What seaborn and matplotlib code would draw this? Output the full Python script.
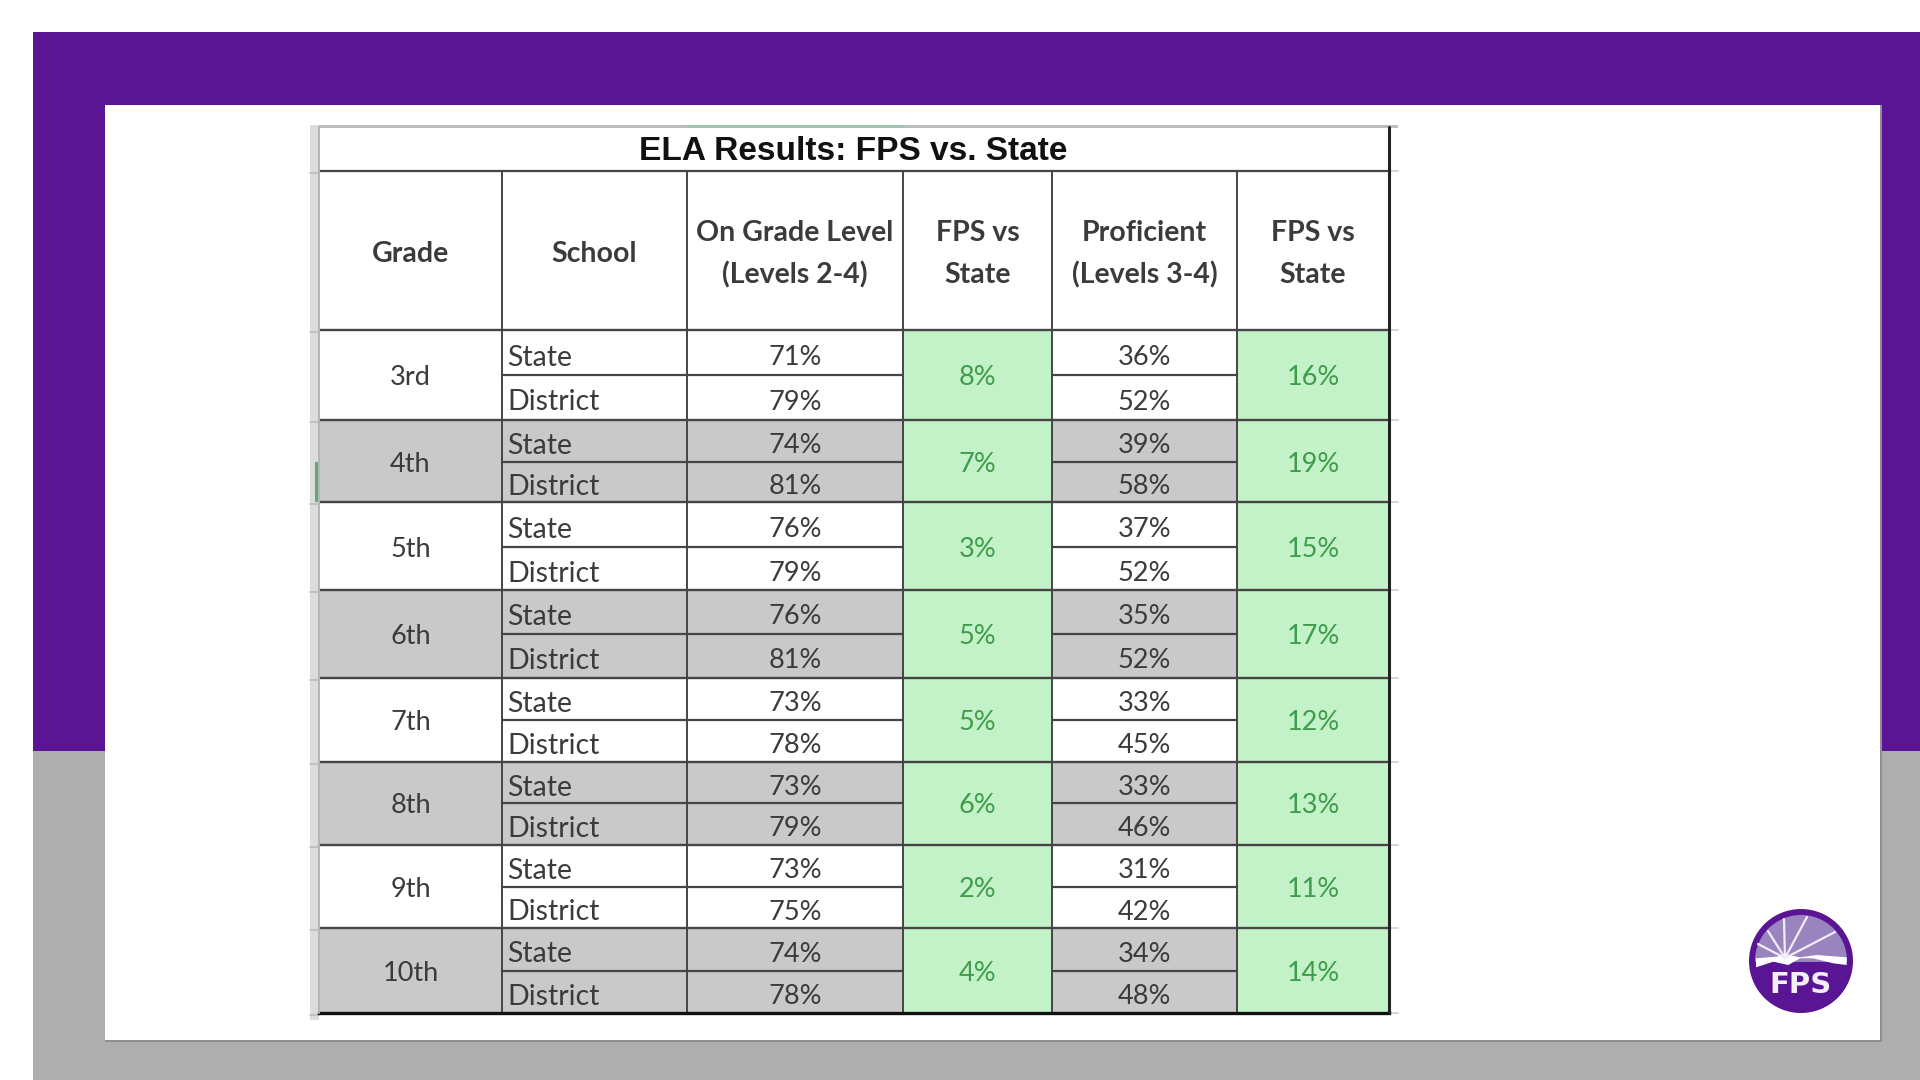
import matplotlib
matplotlib.use("Agg")
import matplotlib.pyplot as plt
from matplotlib.colors import ListedColormap
from matplotlib.patches import Circle, Polygon, Rectangle
import numpy as np
import seaborn as sns

sns.set_theme(style="white")
plt.rcParams['font.family'] = ['Lato', 'DejaVu Sans']

# table values
grades = ["3rd", "4th", "5th", "6th", "7th", "8th", "9th", "10th"]
schools = ["State", "District"]
on_grade_state = [71, 74, 76, 76, 73, 73, 73, 74]
on_grade_district = [79, 81, 79, 81, 78, 79, 75, 78]
on_grade_gap = [8, 7, 3, 5, 5, 6, 2, 4]
proficient_state = [36, 39, 37, 35, 33, 33, 31, 34]
proficient_district = [52, 58, 52, 52, 45, 46, 42, 48]
proficient_gap = [16, 19, 15, 17, 12, 13, 11, 14]

title = "ELA Results: FPS vs. State"
headers = ["Grade", "School", "On Grade Level\n(Levels 2-4)", "FPS vs\nState",
           "Proficient\n(Levels 3-4)", "FPS vs\nState"]

# table geometry, in pixels of the 1920x1080 picture
col_edges = [319, 502, 687, 903, 1052, 1237, 1389]
row_edges = [330, 375, 420, 462, 502, 547, 590, 634, 678, 720, 762, 803, 845, 887, 928, 971, 1013]
title_top, header_top = 127, 171

PURPLE = "#5a1594"
BAND = "#aeaeae"
ROW_GRAY = "#c9c9c9"
GREEN = "#c3f2c9"
GREEN_TEXT = "#3f9c4a"
TEXT = "#3b3b3b"
LINE = "#454545"
BODY_SIZE = 19.5
LABEL_SIZE = 20.5

fig = plt.figure(figsize=(19.2, 10.8), dpi=100, facecolor="white")


def pixel_axes(zorder):
    ax = fig.add_axes([0, 0, 1, 1], zorder=zorder)
    ax.set_xlim(0, 1920)
    ax.set_ylim(1080, 0)
    ax.axis("off")
    ax.patch.set_alpha(0)
    return ax


base = pixel_axes(0)
over = pixel_axes(2)

# slide background
base.add_patch(Rectangle((33, 32), 1887, 719, color=PURPLE, lw=0))
base.add_patch(Rectangle((33, 751), 1887, 329, color=BAND, lw=0))
base.add_patch(Rectangle((105, 105), 1777, 937, color="#8f8f8f", lw=0))
base.add_patch(Rectangle((105, 105), 1775, 935, color="white", lw=0))

# spreadsheet leftovers around the table
base.add_patch(Rectangle((310, 125), 1088, 3, color="#bdbdbd", lw=0))
base.add_patch(Rectangle((687, 125), 216, 3, color="#9cc4ae", lw=0))
base.add_patch(Rectangle((310, 125), 9, 895, color="#dcdcdc", lw=0))
base.add_patch(Rectangle((315, 462), 3, 40, color="#5fa87a", lw=0))
for y in [header_top, header_top + 159] + row_edges[2::2]:
    base.plot([1389, 1398], [y, y], color="#d0d0d0", lw=1.2)
    base.plot([310, 319], [y + 2, y + 2], color="#bcbcbc", lw=1.2)

# table body: one heatmap on 16 sub rows, stretched to the real row heights
n_rows, n_cols = len(grades) * 2, len(headers)
fill = np.zeros((n_rows, n_cols))
values = np.full((n_rows, n_cols), "", dtype=object)
for g in range(len(grades)):
    for r in (2 * g, 2 * g + 1):
        fill[r, :] = g % 2
        fill[r, 3] = 2
        fill[r, 5] = 2
    values[2 * g, 2] = f"{on_grade_state[g]}%"
    values[2 * g + 1, 2] = f"{on_grade_district[g]}%"
    values[2 * g, 4] = f"{proficient_state[g]}%"
    values[2 * g + 1, 4] = f"{proficient_district[g]}%"

table_ax = fig.add_axes([col_edges[0] / 1920, 1 - row_edges[-1] / 1080,
                         (col_edges[-1] - col_edges[0]) / 1920,
                         (row_edges[-1] - row_edges[0]) / 1080], zorder=1)
sns.heatmap(fill, ax=table_ax, cmap=ListedColormap(["white", ROW_GRAY, GREEN]),
            vmin=0, vmax=2, cbar=False, xticklabels=False, yticklabels=False,
            annot=values, fmt="", annot_kws={"color": TEXT, "fontsize": BODY_SIZE})
cols = np.arange(n_cols + 1)
rows = np.arange(n_rows + 1)
table_ax.set_xscale("function", functions=(lambda v: np.interp(v, cols, col_edges),
                                           lambda v: np.interp(v, col_edges, cols)))
table_ax.set_yscale("function", functions=(lambda v: np.interp(v, rows, row_edges),
                                           lambda v: np.interp(v, row_edges, rows)))
table_ax.axis("off")

# the annotations sit a bit low in their cells in the reference
for t in table_ax.texts:
    tx, ty = t.get_position()
    t.set_position((tx, ty + 0.11))

for g, grade in enumerate(grades):
    mid = 2 * g + 1.05
    table_ax.text(0.5, mid, grade, ha="center", va="center", color=TEXT, fontsize=BODY_SIZE)
    table_ax.text(3.5, mid, f"{on_grade_gap[g]}%", ha="center", va="center",
                  color=GREEN_TEXT, fontsize=BODY_SIZE)
    table_ax.text(5.5, mid, f"{proficient_gap[g]}%", ha="center", va="center",
                  color=GREEN_TEXT, fontsize=BODY_SIZE)
    for s, school in enumerate(schools):
        y = (row_edges[2 * g + s] + row_edges[2 * g + s + 1]) / 2 + 5
        over.text(col_edges[1] + 5, y, school, ha="left", va="center", color=TEXT, fontsize=LABEL_SIZE)

# title and header
over.text(853, 152, title, ha="center", va="center", color="#111111", fontsize=24.1,
          fontweight="bold", family="Liberation Sans")
for c, header in enumerate(headers):
    cx = (col_edges[c] + col_edges[c + 1]) / 2
    parts = header.split("\n")
    if len(parts) == 1:
        over.text(cx, 254, parts[0], ha="center", va="center", color=TEXT,
                  fontsize=LABEL_SIZE, fontweight="bold")
    else:
        over.text(cx, 233, parts[0], ha="center", va="center", color=TEXT,
                  fontsize=LABEL_SIZE, fontweight="bold")
        over.text(cx, 275, parts[1], ha="center", va="center", color=TEXT,
                  fontsize=LABEL_SIZE, fontweight="bold")

# grid lines
x0, x1 = col_edges[0], col_edges[-1]
over.plot([x0, x1], [header_top] * 2, color=LINE, lw=1.6)
for i, y in enumerate(row_edges[:-1]):
    if i % 2 == 0:
        over.plot([x0, x1], [y, y], color=LINE, lw=1.7)
    else:
        for c0, c1 in [(1, 3), (4, 5)]:
            over.plot([col_edges[c0], col_edges[c1]], [y, y], color=LINE, lw=1.6)
for x in col_edges[1:-1]:
    over.plot([x, x], [header_top, row_edges[-1]], color=LINE, lw=1.4)
over.plot([x0, x1], [row_edges[-1]] * 2, color="#111111", lw=2.4, solid_capstyle="projecting")
over.plot([x1, x1], [title_top, row_edges[-1]], color="#222222", lw=2.2)
over.plot([x0, x0], [title_top, row_edges[-1]], color="#b5b5b5", lw=1.4)

# logo
cx, cy = 1801, 961
over.add_patch(Circle((cx, cy), 52, color=PURPLE, lw=0))
dome = Circle((cx, cy), 46, color="#9a84c0", lw=0)
over.add_patch(dome)
dome.set_clip_path(Rectangle((1740, 900), 125, 62, transform=over.transData))
for ex, ey in [(1758, 944), (1768, 931), (1784, 919), (1807, 917), (1835, 932)]:
    over.plot([1785, ex], [958, ey], color="#f1ecf7", lw=1.6)
band = np.array([(468, 325), (530, 320), (555, 313), (600, 322), (650, 315), (740, 322),
                 (740, 345), (700, 340), (640, 325), (600, 325), (565, 345), (520, 335), (468, 352)])
over.add_patch(Polygon(np.c_[1600 + band[:, 0] / 3, 850 + band[:, 1] / 3], color="white", lw=0))
over.text(cx, 985, "FPS", ha="center", va="center", color="#f3eff8", fontsize=21,
          fontweight="bold", family="DejaVu Sans")

fig.savefig("out.png", dpi=100)
